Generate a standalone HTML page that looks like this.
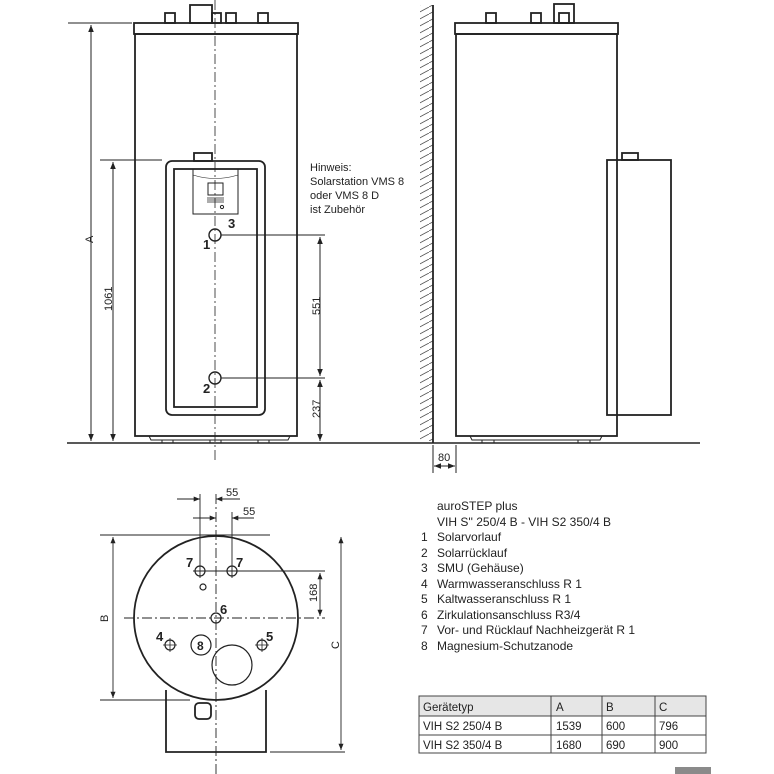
<!DOCTYPE html>
<html><head><meta charset="utf-8"><style>
html,body{margin:0;padding:0;background:#fff}
svg{display:block}
text{font-family:"Liberation Sans","DejaVu Sans",sans-serif;fill:#222}
</style></head><body>
<svg width="774" height="774" viewBox="0 0 774 774" xmlns="http://www.w3.org/2000/svg">
<defs>
<marker id="a" viewBox="0 0 10 10" refX="10" refY="5" markerWidth="7" markerHeight="7" orient="auto-start-reverse"><path d="M0,1 L10,5 L0,9 z" fill="#222"/></marker>
<pattern id="h" width="13" height="7" patternUnits="userSpaceOnUse"><path d="M0,7 L13,0" stroke="#555" stroke-width="0.8"/></pattern>
</defs>
<g stroke="#222" fill="none">
<!-- FRONT VIEW -->
<g stroke-width="1.8">
<rect x="134" y="23" width="164" height="11"/>
<rect x="135" y="34" width="162" height="402"/>
<rect x="165" y="13" width="10" height="10"/>
<rect x="190" y="5" width="22" height="18"/>
<rect x="212" y="13" width="9" height="10"/>
<rect x="226" y="13" width="10" height="10"/>
<rect x="258" y="13" width="10" height="10"/>
<rect x="166" y="161" width="99" height="254" rx="6"/>
<rect x="174" y="169" width="83" height="238"/>
<rect x="194" y="153" width="18" height="8"/>
</g>
<g stroke-width="1">
<path d="M149,436 L151,440 L288,440 L290,436"/>
<path d="M162,440 V443 M173,440 V443 M210,440 V443 M221,440 V443 M258,440 V443 M269,440 V443"/>
<rect x="193" y="169" width="45" height="45"/>
<path d="M193,175 Q215,182 238,175" stroke-width="0.6"/>
<rect x="208" y="183" width="15" height="12"/>
<path d="M207,198 H224 M207,200 H224 M207,202 H224" stroke-width="0.8"/>
<circle cx="222" cy="207" r="1.6"/>
<circle cx="215" cy="235" r="6" stroke-width="1.4"/>
<circle cx="215" cy="378" r="6" stroke-width="1.4"/>
<path d="M215,0 V460" stroke-dasharray="10,3,2,3" stroke-width="0.8"/>
<path d="M68,23 H132 M100,160 H162"/>
<path d="M91,25 V441" marker-start="url(#a)" marker-end="url(#a)"/>
<path d="M113,162 V441" marker-start="url(#a)" marker-end="url(#a)"/>
<path d="M221,235 H325 M221,378 H325"/>
<path d="M320,237 V376" marker-start="url(#a)" marker-end="url(#a)"/>
<path d="M320,380 V441" marker-start="url(#a)" marker-end="url(#a)"/>
</g>
<path d="M67,443 H700" stroke-width="1.5"/>
<!-- SIDE VIEW -->
<rect x="420" y="5" width="13" height="436" fill="url(#h)" stroke="none"/>
<path d="M433,5 V443" stroke-width="1.8"/>
<g stroke-width="1.8">
<rect x="455" y="23" width="163" height="11"/>
<rect x="456" y="34" width="161" height="402"/>
<rect x="486" y="13" width="10" height="10"/>
<rect x="531" y="13" width="10" height="10"/>
<rect x="554" y="4" width="20" height="19"/>
<rect x="559" y="13" width="10" height="10"/>
<rect x="607" y="160" width="64" height="255"/>
<rect x="622" y="153" width="16" height="7"/>
</g>
<g stroke-width="1">
<path d="M470,436 L472,440 L600,440 L602,436"/>
<path d="M482,440 V443 M494,440 V443 M578,440 V443 M590,440 V443"/>
<path d="M433,445 V473 M456,445 V473"/>
<path d="M434,466 H455" marker-start="url(#a)" marker-end="url(#a)"/>
</g>
<!-- TOP VIEW -->
<g stroke-width="1.8">
<path d="M166,690 V752 H266 V690"/>
<circle cx="216" cy="618" r="82" fill="#fff"/>
<rect x="195" y="703" width="16" height="16" rx="4"/>
</g>
<g stroke-width="1.2">
<circle cx="200" cy="571" r="5"/>
<circle cx="232" cy="571" r="5"/>
<circle cx="203" cy="587" r="3"/>
<circle cx="216" cy="618" r="5"/>
<circle cx="170" cy="645" r="5"/>
<circle cx="262" cy="645" r="5"/>
<circle cx="201" cy="645" r="10"/>
<circle cx="232" cy="665" r="20"/>
</g>
<g stroke-width="0.8">
<path d="M163,645 H177 M170,638 V652 M255,645 H269 M262,638 V652"/>
</g>
<g stroke-width="0.9">
<path d="M216,494 V774" stroke-dasharray="10,3,2,3"/>
<path d="M124,618 H325" stroke-dasharray="10,3,2,3"/>
<path d="M200,494 V578 M232,512 V578 M193,571 H325"/>
<path d="M100,535 H270 M100,700 H190 M270,752 H345"/>
<path d="M113,537 V698" marker-start="url(#a)" marker-end="url(#a)"/>
<path d="M341,537 V750" marker-start="url(#a)" marker-end="url(#a)"/>
<path d="M320,573 V616" marker-start="url(#a)" marker-end="url(#a)"/>
<path d="M177,499 H200" marker-end="url(#a)"/>
<path d="M240,499 H216" marker-end="url(#a)"/>
<path d="M193,518 H216" marker-end="url(#a)"/>
<path d="M254,518 H232" marker-end="url(#a)"/>
</g>
<!-- TABLE -->
<rect x="419" y="696" width="287" height="20" fill="#e6e6e6" stroke="none"/>
<g stroke="#444" stroke-width="1">
<rect x="419" y="696" width="287" height="57"/>
<path d="M419,716 H706 M419,735 H706 M551,696 V753 M602,696 V753 M655,696 V753"/>
</g>
</g>
<rect x="675" y="767" width="36" height="7" fill="#8a8a8a"/>
<g font-size="12">
<text x="81" y="243" transform="rotate(-90 87 237)" font-size="11">A</text>
<text x="97" y="304" transform="rotate(-90 108 300)" font-size="11">1061</text>
<text x="308" y="311" transform="rotate(-90 316 307)" font-size="11">551</text>
<text x="308" y="414" transform="rotate(-90 316 410)" font-size="11">237</text>
<text x="228" y="228" font-weight="bold" font-size="13">3</text>
<text x="203" y="249" font-weight="bold" font-size="13">1</text>
<text x="203" y="393" font-weight="bold" font-size="13">2</text>
<g font-size="11"><text x="310" y="171">Hinweis:</text><text x="310" y="185">Solarstation VMS 8</text><text x="310" y="199">oder VMS 8 D</text><text x="310" y="213">ist Zubehör</text></g>
<text x="438" y="461" font-size="11">80</text>
<text x="226" y="496" font-size="11">55</text>
<text x="243" y="515" font-size="11">55</text>
<text x="186" y="567" font-weight="bold" font-size="13">7</text>
<text x="236" y="567" font-weight="bold" font-size="13">7</text>
<text x="220" y="614" font-weight="bold" font-size="13">6</text>
<text x="156" y="641" font-weight="bold" font-size="13">4</text>
<text x="266" y="641" font-weight="bold" font-size="13">5</text>
<text x="197" y="650" font-weight="bold" font-size="12">8</text>
<text x="100" y="622" transform="rotate(-90 104 618)" font-size="11">B</text>
<text x="331" y="649" transform="rotate(-90 335 645)" font-size="11">C</text>
<text x="305" y="598" transform="rotate(-90 313 594)" font-size="11">168</text>
<text x="437" y="510">auroSTEP plus</text>
<text x="437" y="526">VIH S'' 250/4 B - VIH S2 350/4 B</text>
<text x="421" y="541">1</text><text x="437" y="541">Solarvorlauf</text>
<text x="421" y="557">2</text><text x="437" y="557">Solarrücklauf</text>
<text x="421" y="572">3</text><text x="437" y="572">SMU (Gehäuse)</text>
<text x="421" y="588">4</text><text x="437" y="588">Warmwasseranschluss R 1</text>
<text x="421" y="603">5</text><text x="437" y="603">Kaltwasseranschluss R 1</text>
<text x="421" y="619">6</text><text x="437" y="619">Zirkulationsanschluss R3/4</text>
<text x="421" y="634">7</text><text x="437" y="634">Vor- und Rücklauf Nachheizgerät R 1</text>
<text x="421" y="650">8</text><text x="437" y="650">Magnesium-Schutzanode</text>
<g font-size="11.5">
<text x="423" y="711">Gerätetyp</text><text x="556" y="711">A</text><text x="606" y="711">B</text><text x="659" y="711">C</text>
<text x="423" y="730">VIH S2  250/4 B</text><text x="556" y="730">1539</text><text x="606" y="730">600</text><text x="659" y="730">796</text>
<text x="423" y="749">VIH S2  350/4 B</text><text x="556" y="749">1680</text><text x="606" y="749">690</text><text x="659" y="749">900</text>
</g>
</g>
</svg>
</body></html>
